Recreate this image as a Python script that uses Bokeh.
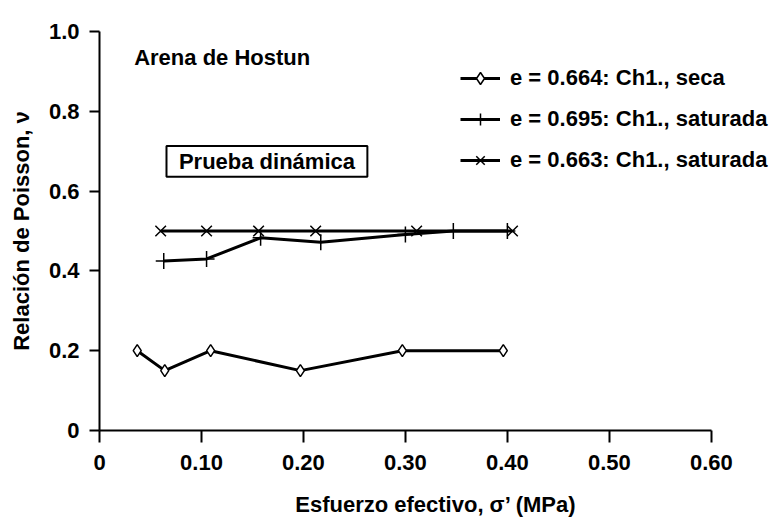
from bokeh.plotting import figure
from bokeh.models import Label, BoxAnnotation, Legend, LegendItem, FixedTicker
from bokeh.embed import file_html
from bokeh.resources import INLINE

# --- data ---
seca_x = [0.037, 0.064, 0.109, 0.197, 0.297, 0.396]
seca_y = [0.20, 0.15, 0.20, 0.15, 0.20, 0.20]

sat695_x = [0.063, 0.105, 0.158, 0.217, 0.300, 0.347, 0.400]
sat695_y = [0.425, 0.430, 0.483, 0.472, 0.491, 0.500, 0.500]

sat663_x = [0.060, 0.105, 0.156, 0.212, 0.311, 0.405]
sat663_y = [0.50, 0.50, 0.50, 0.50, 0.50, 0.50]

series_labels = ["e = 0.664: Ch1., seca",
                 "e = 0.695: Ch1., saturada",
                 "e = 0.663: Ch1., saturada"]

x_ticks = [0, 0.1, 0.2, 0.3, 0.4, 0.5, 0.6]
x_tick_labels = ["0", "0.10", "0.20", "0.30", "0.40", "0.50", "0.60"]
y_ticks = [0, 0.2, 0.4, 0.6, 0.8, 1.0]
y_tick_labels = ["0", "0.2", "0.4", "0.6", "0.8", "1.0"]

FONT = "Liberation Sans"
FS = "22px"

p = figure(width=772, height=519, output_backend="svg", toolbar_location=None,
           x_range=(0, 0.66), y_range=(0, 1.0),
           min_border_left=99, min_border_right=0, min_border_top=31, min_border_bottom=87)
p.outline_line_color = None
p.grid.visible = False
p.background_fill_color = "white"
p.border_fill_color = "white"

for ax in (p.xaxis[0], p.yaxis[0]):
    ax.axis_line_width = 2
    ax.axis_line_color = "black"
    ax.major_tick_line_width = 2
    ax.major_tick_line_color = "black"
    ax.minor_tick_line_color = None
    ax.major_tick_in = 0
    ax.major_label_text_font = FONT
    ax.major_label_text_font_style = "bold"
    ax.major_label_text_font_size = FS
    ax.major_label_text_color = "black"
    ax.axis_label_text_font = FONT
    ax.axis_label_text_font_style = "bold"
    ax.axis_label_text_font_size = FS
    ax.axis_label_text_color = "black"

p.xaxis.ticker = FixedTicker(ticks=x_ticks)
p.xaxis.bounds = (0, 0.6)
p.xaxis.major_label_overrides = {t: l for t, l in zip(x_ticks, x_tick_labels)}
p.xaxis.major_tick_out = 12
p.xaxis.major_label_standoff = 12
p.xaxis.axis_label = "Esfuerzo efectivo, σ’ (MPa)"
p.xaxis.axis_label_standoff = 19

p.yaxis.ticker = FixedTicker(ticks=y_ticks)
p.yaxis.major_label_overrides = {t: l for t, l in zip(y_ticks, y_tick_labels)}
p.yaxis.major_tick_out = 10
p.yaxis.major_label_standoff = 10
p.yaxis.axis_label = "Relación de Poisson, ν"
p.yaxis.axis_label_standoff = 12

LW = 3
l1 = p.line(seca_x, seca_y, line_color="black", line_width=LW)
m1 = p.scatter(seca_x, seca_y, marker="diamond", size=12, fill_color="white",
               line_color="black", line_width=1.5)
l2 = p.line(sat695_x, sat695_y, line_color="black", line_width=LW)
m2 = p.scatter(sat695_x, sat695_y, marker="cross", size=16, line_color="black", line_width=1.5)
l3 = p.line(sat663_x, sat663_y, line_color="black", line_width=LW)
m3 = p.scatter(sat663_x, sat663_y, marker="x", size=15, line_color="black", line_width=1.5)

legend = Legend(items=[LegendItem(label=series_labels[0], renderers=[l1, m1]),
                       LegendItem(label=series_labels[1], renderers=[l2, m2]),
                       LegendItem(label=series_labels[2], renderers=[l3, m3])],
                location=(361, 255))
legend.glyph_width = 40
legend.glyph_height = 30
legend.spacing = 11
legend.label_standoff = 10
legend.padding = 0
legend.margin = 0
legend.border_line_color = None
legend.background_fill_alpha = 0
legend.label_text_font = FONT
legend.label_text_font_style = "bold"
legend.label_text_font_size = FS
legend.label_text_color = "black"
p.add_layout(legend)

p.add_layout(Label(x=0.034, y=0.935, text="Arena de Hostun", text_font=FONT,
                   text_font_style="bold", text_font_size=FS, text_color="black",
                   text_align="left", text_baseline="alphabetic"))

p.add_layout(BoxAnnotation(left=0.0657, right=0.2627, bottom=0.636, top=0.713,
                           fill_alpha=0, line_color="black", line_alpha=1, line_width=2))
p.add_layout(Label(x=0.1642, y=0.6745, text="Prueba dinámica", text_font=FONT,
                   text_font_style="bold", text_font_size=FS, text_color="black",
                   text_align="center", text_baseline="middle"))

open("out.html", "w").write(file_html(p, INLINE))
